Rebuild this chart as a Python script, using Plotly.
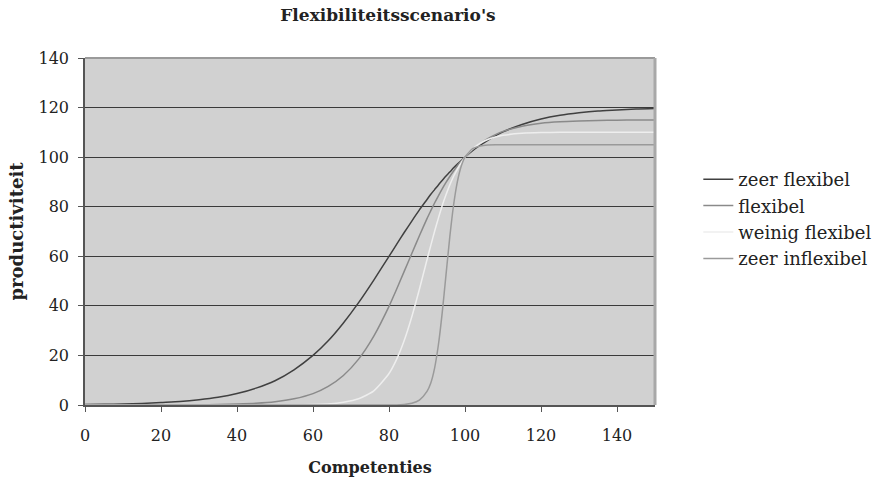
import plotly.graph_objects as go

# Competence levels (x) shared by all scenarios
competenties = [0, 5, 10, 15, 20, 25, 30, 35, 40, 45, 50, 55, 60, 64, 68, 72, 76, 80,
                82, 84, 86, 88, 90, 91, 92, 93, 94, 95, 96, 97, 98, 99, 100,
                102, 104, 106, 108, 110, 115, 120, 125, 130, 135, 140, 145, 150]

zeer_flexibel = [0.2, 0.3, 0.4, 0.6, 1.0, 1.4, 2.1, 3.1, 4.6, 6.8, 9.8, 14.2, 20.0, 25.9, 33.1, 41.3, 50.4, 60.0,
                 64.8, 69.6, 74.2, 78.7, 82.9, 85.0, 86.9, 88.8, 90.6, 92.4, 94.0, 95.7, 97.2, 98.6, 100.0,
                 102.6, 104.8, 106.8, 108.6, 110.2, 113.2, 115.4, 116.9, 117.9, 118.6, 119.0, 119.4, 119.6]

flexibel = [0.0, 0.0, 0.0, 0.0, 0.0, 0.1, 0.1, 0.2, 0.4, 0.7, 1.3, 2.5, 4.6, 7.5, 11.9, 18.5, 27.8, 39.8,
            46.7, 53.9, 61.1, 68.3, 75.2, 78.4, 81.5, 84.4, 87.2, 89.8, 92.2, 94.4, 96.5, 98.4, 100.0,
            103.1, 105.5, 107.5, 109.1, 110.4, 112.5, 113.7, 114.3, 114.6, 114.8, 114.9, 115.0, 115.0]

weinig_flexibel = [0.0, 0.0, 0.0, 0.0, 0.0, 0.0, 0.0, 0.0, 0.0, 0.0, 0.0, 0.1, 0.2, 0.4, 1.1, 2.5, 5.7, 12.7,
                   18.4, 26.0, 35.6, 46.7, 58.6, 64.4, 70.1, 75.4, 80.4, 84.8, 88.8, 92.3, 95.2, 97.8, 100.0,
                   103.3, 105.6, 107.1, 108.1, 108.8, 109.6, 109.9, 110.0, 110.0, 110.0, 110.0, 110.0, 110.0]

zeer_inflexibel = [0.0, 0.0, 0.0, 0.0, 0.0, 0.0, 0.0, 0.0, 0.0, 0.0, 0.0, 0.0, 0.0, 0.0, 0.0, 0.0, 0.0, 0.0,
                   0.0, 0.2, 0.7, 2.0, 5.5, 8.9, 14.9, 24.3, 37.2, 52.5, 67.8, 80.7, 90.1, 96.3, 100.0,
                   103.4, 104.5, 104.9, 105.0, 105.0, 105.0, 105.0, 105.0, 105.0, 105.0, 105.0, 105.0, 105.0]

series = [
    ("zeer flexibel", zeer_flexibel, "#404040"),
    ("flexibel", flexibel, "#8a8a8a"),
    ("weinig flexibel", weinig_flexibel, "#eeeeee"),
    ("zeer inflexibel", zeer_inflexibel, "#9a9a9a"),
]

FONT = "DejaVu Serif"

fig = go.Figure()
for name, values, color in series:
    fig.add_trace(go.Scatter(
        x=competenties, y=values, name=name, mode="lines",
        line=dict(color=color, width=1.5, shape="spline", smoothing=0.6),
    ))

fig.update_layout(
    width=896, height=486,
    margin=dict(l=85, r=241, t=58, b=81),
    paper_bgcolor="white",
    plot_bgcolor="#d1d1d1",
    font=dict(family=FONT, size=16, color="#222222"),
    title=dict(text="<b>Flexibiliteitsscenario's</b>", x=388 / 896, xanchor="center",
               y=1 - 15 / 486, yanchor="middle", font=dict(family=FONT, size=17)),
    showlegend=True,
    legend=dict(x=1.076, xanchor="left", y=(405 - 219) / 347, yanchor="middle",
                font=dict(family=FONT, size=18, color="#222222"),
                bgcolor="rgba(0,0,0,0)", tracegroupgap=0, itemwidth=30),
    xaxis=dict(
        range=[0, 150], tickmode="array", tickvals=[0, 20, 40, 60, 80, 100, 120, 140],
        showgrid=False, zeroline=False,
        showline=True, linecolor="#555555", linewidth=1.5,
        ticks="outside", ticklen=5, tickcolor="#555555",
        ticklabelstandoff=10,
        tickfont=dict(family=FONT, size=16),
        title=dict(text="<b>Competenties</b>", font=dict(family=FONT, size=16), standoff=18),
    ),
    yaxis=dict(
        range=[0, 140], tickmode="array", tickvals=[0, 20, 40, 60, 80, 100, 120, 140],
        showgrid=True, gridcolor="#3a3a3a", gridwidth=1, zeroline=False,
        showline=True, linecolor="#555555", linewidth=1.5,
        ticks="outside", ticklen=5, tickcolor="#555555",
        ticklabelstandoff=6,
        tickfont=dict(family=FONT, size=16),
        title=dict(text="<b>productiviteit</b>", font=dict(family=FONT, size=18), standoff=10),
    ),
)

# light frame on the top and right of the plotting area
fig.add_shape(type="line", xref="paper", yref="paper", x0=0, x1=1, y0=1, y1=1,
              line=dict(color="#9a9a9a", width=2), layer="above")
fig.add_shape(type="line", xref="paper", yref="paper", x0=1, x1=1, y0=0, y1=1,
              line=dict(color="#a8a8a8", width=3), layer="above")

fig.write_html("out.html")
